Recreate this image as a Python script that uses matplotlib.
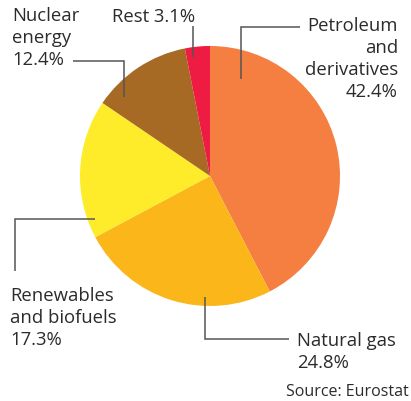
import matplotlib.pyplot as plt

W, H = 411, 402

labels = ['Petroleum\nand\nderivatives', 'Natural gas', 'Renewables\nand biofuels',
          'Nuclear\nenergy', 'Rest']
shares = [42.4, 24.8, 17.3, 12.4, 3.1]
colors = ['#F47F40', '#FBB61A', '#FEEC2A', '#A66A24', '#EE1B42']

plt.rcParams['font.family'] = ['Open Sans', 'DejaVu Sans']
txt = '#2b2b2b'
line = '#555555'

fig = plt.figure(figsize=(W / 100, H / 100), dpi=100)
ax = fig.add_axes([0, 0, 1, 1])


def Y(p):
    # pixel row (from top) -> data y
    return H - p


ax.pie(shares, colors=colors, startangle=90, counterclock=False,
       center=(210, Y(177)), radius=130, frame=True,
       wedgeprops=dict(linewidth=0))
ax.set_xlim(0, W)
ax.set_ylim(0, H)
ax.axis('off')

# leader lines
legs = [
    [(241, 80), (241, 28), (300, 28)],   # petroleum
    [(205, 298), (205, 340), (289, 340)],  # natural gas
    [(95, 220), (15, 220), (15, 272)],   # renewables
    [(124, 98), (124, 62), (73, 62)],    # nuclear
    [(193, 58), (193, 27)],              # rest
]
for pts in legs:
    ax.plot([p[0] for p in pts], [Y(p[1]) for p in pts], color=line, lw=1.1,
            solid_joinstyle='miter', solid_capstyle='butt')

fs = 13.3
ls = 1.28
pct = ['%.1f%%' % s for s in shares]
# placed by last-line baseline
ax.text(398, Y(97), labels[0] + '\n' + pct[0], ha='right', va='baseline',
        fontsize=fs, color=txt, linespacing=ls)
ax.text(297, Y(368), labels[1] + '\n' + pct[1], ha='left', va='baseline',
        fontsize=fs, color=txt, linespacing=ls)
ax.text(10, Y(345), labels[2] + '\n' + pct[2], ha='left', va='baseline',
        fontsize=fs, color=txt, linespacing=ls)
ax.text(12, Y(65), labels[3] + '\n' + pct[3], ha='left', va='baseline',
        fontsize=fs, color=txt, linespacing=ls)
ax.text(195, Y(22), labels[4] + ' ' + pct[4], ha='right', va='baseline',
        fontsize=fs, color=txt, linespacing=ls)

ax.text(409, Y(396), 'Source: Eurostat', ha='right', va='baseline',
        fontsize=11.5, color=txt)

fig.savefig('out.png', dpi=100)
